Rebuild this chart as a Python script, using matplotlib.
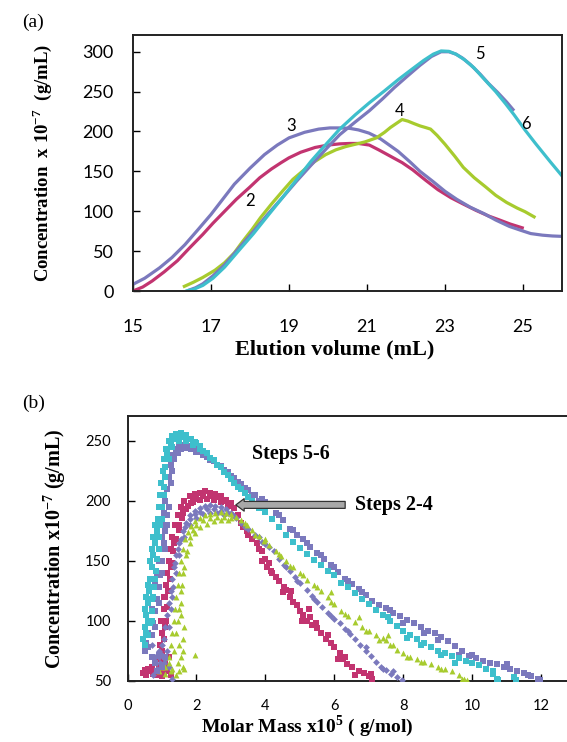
import matplotlib
matplotlib.use("Agg")
import matplotlib.pyplot as plt

plt.rcParams['font.family'] = ['Lato', 'DejaVu Sans']
plt.rcParams['mathtext.fontset'] = 'custom'
plt.rcParams['mathtext.rm'] = 'Liberation Serif'
plt.rcParams['mathtext.bf'] = 'Liberation Serif:bold'

SERIF = ['Liberation Serif', 'DejaVu Serif']

purple = '#7b79bd'
magenta = '#c23470'
green = '#a7cb2e'
cyan = '#3ebfcc'

# ---- panel (a): elution curves (step number -> volume, concentration) ----
v2 = [15.0, 15.25, 15.49, 15.8, 16.14, 16.45, 16.79, 17.05, 17.35, 17.65, 17.99, 18.25,
      18.55, 18.8, 19.0, 19.3, 19.67, 20.0, 20.3, 20.55, 20.78, 21.06, 21.3, 21.6,
      21.9, 22.17, 22.5, 22.82, 23.15, 23.47, 23.8, 24.12, 24.4, 24.67, 25.02]
c2 = [0, 5, 12.5, 24, 38, 54, 71, 85, 100, 115, 130, 142,
      153, 161, 167, 174, 180, 183, 184.5, 185, 185, 183, 177, 169,
      161, 152, 139, 127, 117, 109, 101, 94, 89, 84, 78.6]

v3 = [15.0, 15.3, 15.68, 16.0, 16.33, 16.65, 17.0, 17.3, 17.6, 18.0, 18.37, 18.7,
      19.0, 19.4, 19.76, 20.05, 20.3, 20.55, 20.78, 21.05, 21.34, 21.6, 21.8, 22.1,
      22.36, 22.7, 23.0, 23.3, 23.65, 24.0, 24.3, 24.65, 24.95, 25.2, 25.5, 25.75, 26.0]
c3 = [8.4, 16, 29, 42, 58, 76, 96, 115, 134, 154, 171, 183,
      192, 199, 203, 204.5, 204.5, 204, 202, 198, 191, 182, 175, 162,
      150, 137, 125, 115, 105, 97, 89, 81, 76, 72, 70, 69, 68.5]

v4 = [16.28, 16.55, 16.79, 17.1, 17.35, 17.6, 17.81, 18.05, 18.27, 18.55, 18.83, 19.1,
      19.39, 19.65, 19.94, 20.2, 20.45, 20.7, 20.95, 21.24, 21.45, 21.6, 21.75, 21.9,
      22.05, 22.2, 22.36, 22.5, 22.63, 22.8, 23.0, 23.25, 23.47, 23.75, 24.03, 24.3,
      24.58, 24.85, 25.05, 25.32]
c4 = [5, 11, 17, 26, 35.5, 48, 62, 77, 92, 109, 125, 140,
      152, 162, 171, 177, 181, 184, 187, 192, 199, 205, 210, 215,
      213, 210, 207, 205, 203, 195, 184, 169, 155, 142, 131, 120,
      111, 104, 99.5, 92]

v5 = [16.42, 16.6, 16.79, 17.05, 17.35, 17.7, 18.09, 18.45, 18.83, 19.2, 19.57, 19.95,
      20.3, 20.7, 21.06, 21.4, 21.7, 22.05, 22.36, 22.65, 22.9, 23.1, 23.28, 23.45,
      23.65, 23.9, 24.12, 24.35, 24.58, 24.77]
c5 = [0.8, 4, 9, 19, 33, 53, 75, 96, 117, 138, 158, 178,
      196, 212, 226, 241, 255, 270, 283, 294, 300, 300, 297, 292,
      284, 272, 260, 249, 237, 226]

v6 = [16.35, 16.55, 16.79, 17.05, 17.35, 17.7, 18.09, 18.45, 18.83, 19.2, 19.57, 19.95,
      20.3, 20.7, 21.06, 21.45, 21.8, 22.15, 22.45, 22.7, 22.9, 23.1, 23.28, 23.5,
      23.74, 24.0, 24.3, 24.55, 24.77, 25.05, 25.32, 25.7, 26.04]
c6 = [0, 2, 7, 16, 30, 50, 72, 94, 117, 140, 163, 184,
      203, 221, 236, 251, 265, 278, 289, 297, 301, 300.5, 297, 290,
      280, 266, 250, 235, 221, 202, 185, 162, 142]

curve_labels = ['2', '3', '4', '5', '6']
label_x = [18.0, 19.06, 21.83, 23.9, 25.07]
label_y = [113, 207, 226, 297, 210]

# ---- panel (b): concentration vs molar mass (x1e5 g/mol) ----
m2 = [0.45, 0.55, 0.65, 0.75, 0.85, 0.95, 1.05, 1.15, 1.25, 0.6, 0.9, 1.1,
      0.9, 0.95, 1.0, 1.02, 1.05, 1.08, 1.12, 1.15, 1.2, 1.25, 1.3, 1.38, 1.45, 1.55,
      1.65, 1.8, 1.95, 2.1, 2.25, 2.4, 2.55, 2.7, 2.85, 3.0, 3.1,
      1.1, 1.18, 1.25, 1.35, 1.48, 1.6, 1.75, 1.9, 2.1, 2.3, 2.5, 2.7, 2.9,
      3.2, 3.3, 3.45, 3.6, 3.75, 3.9, 4.0, 4.1, 4.2, 4.3, 4.4, 4.55, 4.7, 4.8, 4.9,
      5.0, 5.1, 5.2, 5.35, 5.5, 5.6, 5.75, 5.9, 6.0, 6.15, 6.25, 6.35, 6.5, 6.7,
      6.85, 7.0, 7.1, 4.05, 3.8, 4.6, 5.3,
      1.0, 1.1, 1.2, 1.0, 1.05, 1.12, 1.15, 1.2, 1.22, 1.28, 1.33, 1.4, 1.48, 1.58,
      1.7, 1.85, 2.0, 2.2, 2.4, 2.6, 2.8, 3.0, 0.95, 0.5, 0.7, 0.8, 1.0, 0.98, 1.05,
      3.35, 3.5, 3.9, 4.15, 4.5, 4.75, 5.05, 5.25, 5.45, 5.8, 6.1, 6.3, 6.6, 7.05]
s2 = [57, 55, 58, 56, 55, 57, 56, 58, 55, 60, 62, 60,
      70, 80, 90, 100, 110, 120, 130, 140, 150, 160, 170, 180, 188, 195,
      200, 204, 206, 207, 208, 207, 206, 204, 201, 197, 194,
      95, 125, 145, 165, 180, 190, 196, 199, 201, 202, 201, 199, 196,
      188, 182, 175, 168, 165, 158, 152, 148, 140, 137, 133, 128, 120, 116, 113,
      108, 105, 100, 97, 94, 90, 85, 82, 78, 73, 68, 64, 62, 58,
      57, 54, 52, 145, 160, 126, 103,
      60, 65, 70, 75, 85, 100, 112, 125, 135, 148, 158, 168, 176, 186,
      193, 198, 202, 204, 204, 203, 200, 198, 68, 59, 62, 58, 54, 100, 120,
      178, 172, 150, 142, 124, 125, 100, 110, 98, 88, 68, 70, 55, 56]

m3 = [0.75, 0.85, 0.95, 0.8, 0.9, 1.0, 1.1, 1.2, 1.3, 0.7,
      1.05, 1.1, 1.15, 1.2, 1.25, 1.3, 1.35, 1.42, 1.5, 1.6, 1.7, 1.82, 1.95, 2.1,
      2.25, 2.4, 2.55, 2.7, 2.85, 3.0,
      1.3, 1.4, 1.5, 1.65, 1.8, 2.0, 2.2, 2.4, 2.6, 2.8,
      3.15, 3.3, 3.5, 3.7, 3.9, 4.1, 4.25, 4.4, 4.55, 4.7, 4.85, 5.0, 5.2, 5.35,
      5.5, 5.65, 5.8, 6.0, 6.15, 6.3, 6.45, 6.6, 6.75, 6.9, 7.05, 7.2, 7.35, 7.5,
      7.65, 7.8, 7.95,
      0.9, 1.0, 1.05, 1.15, 1.2, 1.25, 1.32, 1.38, 1.45, 1.55, 1.68, 1.8, 1.95, 2.1,
      2.3, 2.5, 2.7, 2.9, 3.05,
      3.4, 3.8, 4.0, 4.6, 4.9, 5.4, 5.9, 6.4, 6.9, 7.4, 7.7]
s3 = [55, 60, 65, 70, 75, 72, 68, 62, 52, 80,
      85, 95, 105, 115, 125, 135, 145, 155, 165, 175, 182, 188, 192, 194,
      195.5, 196.5, 196, 195, 193, 190,
      120, 140, 155, 170, 180, 186, 189, 190, 190, 188,
      186, 182, 177, 172, 166, 162, 158, 152, 147, 142, 137, 132, 126, 121,
      116, 112, 107, 102, 98, 93, 89, 85, 80, 75, 71, 66, 62, 59,
      56, 53, 51,
      70, 80, 65, 75, 95, 110, 128, 148, 160, 168, 178, 185, 189, 191,
      193, 193, 192, 190, 188,
      178, 170, 164, 145, 133, 118, 104, 92, 78, 60, 58]

m4 = [0.9, 1.0, 1.1, 1.2, 1.3, 1.4, 1.5, 1.6, 1.2, 1.35, 1.5, 1.6, 1.65, 1.55, 1.95,
      1.3, 1.35, 1.38, 1.42, 1.46, 1.5, 1.55, 1.6, 1.68, 1.76, 1.85, 1.95, 2.1,
      2.25, 2.4, 2.55, 2.7, 2.85, 3.0, 3.15,
      1.55, 1.62, 1.7, 1.8, 1.95, 2.1, 2.3, 2.5, 2.7, 2.9,
      3.3, 3.45, 3.6, 3.8, 3.95, 4.1, 4.3, 4.45, 4.6, 4.8, 5.0, 5.2, 5.4, 5.6,
      5.8, 6.0, 6.2, 6.4, 6.6, 6.8, 7.0, 7.2, 7.4, 7.6, 7.8, 8.0, 8.2, 8.4, 8.6,
      8.8, 9.0, 9.2, 9.4, 9.6, 9.75, 9.85, 7.55, 7.5, 6.7, 5.9,
      1.25, 1.4, 1.45, 1.5, 1.55, 1.58, 1.65, 1.72, 1.82, 1.9, 2.0, 2.2, 2.4, 2.6,
      2.8, 3.0, 1.45, 1.55, 1.6, 1.65, 1.1, 1.25,
      3.4, 3.7, 4.0, 4.4, 4.7, 5.1, 5.5, 5.9, 6.3, 6.9, 7.3, 7.7, 8.1, 8.5, 9.1, 9.7]
s4 = [58, 62, 56, 65, 60, 55, 58, 62, 70, 75, 80, 85, 95, 105, 72,
      90, 100, 110, 120, 130, 140, 150, 160, 168, 174, 179, 183, 186,
      188, 189, 190, 190.5, 190, 189, 187,
      125, 140, 155, 165, 173, 178, 181, 183, 184, 184,
      184, 180, 176, 171, 167, 163, 158, 154, 150, 145, 140, 134, 130, 125,
      120, 114, 108, 104, 99, 95, 92, 88, 86, 80, 76, 73, 70, 68, 66,
      64, 62, 60, 58, 55, 52, 50.5, 88, 84, 103, 124,
      80, 90, 100, 110, 115, 130, 145, 158, 170, 176, 180, 184, 186, 187,
      187, 186, 65, 70, 75, 60, 62, 58,
      182, 172, 168, 156, 146, 138, 128, 116, 106, 92, 84, 80, 70, 66, 60, 52]

m5 = [0.5, 0.55, 0.6, 0.65, 0.7, 0.75, 0.8, 0.85, 0.9, 0.95, 1.0, 1.02, 1.06, 1.1,
      1.15, 1.2, 1.25, 1.3, 1.4, 1.5, 1.6, 1.7, 1.8, 1.95, 2.1, 2.3, 2.5, 2.7, 2.9,
      3.1, 3.3, 3.5, 3.7, 3.9, 4.1, 4.3, 4.5, 4.7, 4.9, 5.1, 5.3, 5.5, 5.7, 5.9,
      6.1, 6.3, 6.5, 6.7, 6.9, 7.1, 7.3, 7.5, 7.7, 7.9, 8.1, 8.3, 8.5, 8.7, 8.9,
      9.1, 9.3, 9.5, 9.7, 9.9, 10.1, 10.3, 10.5, 10.7, 10.9, 11.1, 11.3, 11.5,
      11.7, 11.9, 11.95, 0.8, 0.9, 1.0, 1.1, 1.15, 1.2,
      0.6, 0.7, 0.75, 0.8, 0.85, 0.9, 0.95, 1.0, 1.05, 1.1, 1.15, 1.25, 1.3, 1.35,
      1.45, 1.55, 1.7, 1.85, 2.0, 2.2, 2.4, 2.6, 2.8, 3.0, 3.2, 3.4, 3.6, 3.8,
      0.7, 0.8, 0.9, 1.0, 1.1, 0.85,
      4.0, 4.4, 4.8, 5.2, 5.6, 6.0, 6.4, 6.8, 7.6, 8.0, 8.6, 9.0, 9.6, 10.0, 11.0, 11.6]
s5 = [75, 82, 90, 100, 110, 120, 130, 140, 150, 160, 170, 180, 190, 200,
      210, 220, 230, 238, 243, 246, 247, 247, 246, 244, 241, 237, 233, 229, 224,
      219, 214, 209, 205, 202, 196, 190, 184, 177, 172, 168, 162, 157, 152, 147,
      141, 135, 131, 127, 122, 117, 113, 111, 107, 104, 101, 98, 95, 92, 90,
      87, 83, 79, 75, 71, 69, 67, 65, 64, 62, 60, 58, 57,
      54, 52, 50.5, 95, 115, 140, 160, 180, 195,
      78, 88, 98, 108, 118, 128, 138, 150, 165, 175, 188, 215, 225, 235,
      240, 243, 244, 243, 241, 238, 234, 230, 226, 221, 216, 211, 205, 200,
      70, 65, 72, 62, 70, 58,
      199, 188, 176, 165, 155, 145, 133, 124, 109, 98, 90, 84, 72, 72, 64, 55]

m6 = [0.45, 0.5, 0.55, 0.6, 0.62, 0.65, 0.7, 0.75, 0.8, 0.85, 0.88, 0.9, 0.95, 0.98,
      1.02, 1.07, 1.12, 1.2, 1.3, 1.4, 1.55, 1.7, 1.85, 2.0, 2.2, 2.4, 2.6, 2.8,
      3.0, 3.2, 3.4, 3.6, 3.8, 4.0, 4.2, 4.4, 4.6, 4.8, 5.0, 5.2, 5.4, 5.6, 5.8,
      6.0, 6.2, 6.4, 6.6, 6.8, 7.0, 7.2, 7.4, 7.6, 7.8, 8.0, 8.2, 8.4, 8.6, 8.8,
      9.0, 9.2, 9.4, 9.6, 9.8, 10.0, 10.2, 10.4, 10.6, 10.7, 10.75, 11.25,
      0.7, 0.75, 0.8, 0.9, 1.0, 1.05, 1.1, 1.2, 1.3, 1.5, 1.7, 1.9, 2.1,
      0.6, 0.65, 0.7, 0.72, 0.78, 0.82, 0.86, 0.9, 0.95, 1.0, 1.05, 1.1, 1.15, 1.25,
      1.35, 1.45, 1.6, 1.75, 1.95, 2.1, 2.3, 2.5, 2.7, 2.9, 3.1, 3.3, 3.5, 3.7,
      0.5, 0.55, 0.58, 0.52, 0.55, 0.6, 0.65, 0.7, 0.75, 0.8,
      7.55, 8.1, 8.5, 9.1, 9.5, 10.6, 11.2]
s6 = [85, 95, 105, 115, 125, 135, 145, 155, 165, 175, 185, 195, 205, 215,
      225, 235, 243, 250, 254, 256, 256.5, 255, 252, 248, 242, 236, 230, 224,
      218, 212, 207, 200, 194, 191, 185, 178, 172, 166, 161, 156, 151, 147, 142,
      138, 132, 128, 123, 118, 114, 109, 105, 100, 96, 92, 88, 85, 82, 78,
      75, 73, 71, 69, 67, 65, 63, 60, 56, 52, 50.5, 51,
      100, 120, 135, 160, 185, 205, 220, 235, 245, 250, 250, 247, 243,
      88, 98, 108, 118, 128, 142, 152, 170, 180, 195, 212, 228, 240, 248,
      252, 253, 253, 252, 249, 246, 240, 234, 228, 222, 215, 210, 203, 197,
      80, 90, 100, 110, 120, 130, 150, 160, 170, 180,
      103, 86, 80, 72, 65, 58, 53]

fig = plt.figure(figsize=(5.67, 7.42), dpi=100)

# panel (a)
ax = fig.add_axes([133 / 567, 451 / 742, 429 / 567, 256 / 742])
for v, c, col in [(v2, c2, magenta), (v3, c3, purple), (v4, c4, green),
                  (v5, c5, purple), (v6, c6, cyan)]:
    ax.plot(v, c, color=col, lw=2.3, solid_joinstyle='round', solid_capstyle='butt')
for t, x, y in zip(curve_labels, label_x, label_y):
    ax.text(x, y, t, fontsize=12, ha='center', va='center')
ax.set_xlim(15, 26.0)
ax.set_ylim(0, 321)
ax.set_xticks([15, 17, 19, 21, 23, 25])
ax.set_yticks([0, 50, 100, 150, 200, 250, 300])
ax.tick_params(direction='in', length=5, width=1, labelsize=13)
ax.tick_params(axis='x', pad=20)
ax.tick_params(axis='y', pad=14)
for sp in ax.spines.values():
    sp.set_linewidth(1.4)
    sp.set_color('#222222')
ax.set_xlabel('Elution volume (mL)', fontsize=16, fontweight='bold', family=SERIF)
ax.xaxis.set_label_coords(0.47, -0.19)
ax.set_ylabel(r'Concentration  x 10$^{\mathbf{-7}}$  (g/mL)', fontsize=13.5,
              fontweight='bold', family=SERIF)
ax.yaxis.set_label_coords(-0.184, 0.5)
fig.text(22 / 567, 1 - 22 / 742, '(a)', family=SERIF, fontsize=14, ha='left', va='center')

# panel (b)
bx = fig.add_axes([127.5 / 567, 61 / 742, 439.5 / 567, 265.3 / 742])
ms = 15
bx.scatter(m2, s2, marker='s', s=ms, color=magenta, linewidths=0, zorder=3)
bx.scatter(m3, s3, marker='D', s=ms * 0.8, color=purple, linewidths=0, zorder=3)
bx.scatter(m4, s4, marker='^', s=ms * 1.2, color=green, linewidths=0, zorder=3)
bx.scatter(m5, s5, marker='s', s=ms, color=purple, linewidths=0, zorder=3)
bx.scatter(m6, s6, marker='s', s=ms, color=cyan, linewidths=0, zorder=3)
bx.annotate('', xy=(3.06, 196.7), xytext=(6.39, 196.7),
            arrowprops=dict(arrowstyle='simple,head_length=0.6,head_width=0.9,tail_width=0.5',
                            fc='#a8a8a8', ec='#333333', lw=0.9), zorder=4)
bx.text(6.6, 196.7, 'Steps 2-4', family=SERIF, fontweight='bold', fontsize=14.5,
        ha='left', va='center')
bx.text(3.6, 239, 'Steps 5-6', family=SERIF, fontweight='bold', fontsize=14.5,
        ha='left', va='center')
bx.set_xlim(0, 12.74)
bx.set_ylim(50, 271)
bx.set_xticks([0, 2, 4, 6, 8, 10, 12])
bx.set_yticks([50, 100, 150, 200, 250])
bx.tick_params(direction='in', length=5, width=1, labelsize=10.5)
bx.tick_params(axis='x', pad=13)
bx.tick_params(axis='y', pad=12)
for sp in bx.spines.values():
    sp.set_linewidth(1.4)
    sp.set_color('#222222')
bx.spines['right'].set_visible(False)
bx.set_xlabel(r'Molar Mass x10$^{\mathbf{5}}$ ( g/mol)', fontsize=14, fontweight='bold',
              family=SERIF)
bx.xaxis.set_label_coords(0.41, -0.12)
bx.set_ylabel(r'Concentration x10$^{\mathbf{-7}}$ (g/mL)', fontsize=14.5, fontweight='bold',
              family=SERIF)
bx.yaxis.set_label_coords(-0.135, 0.5)
fig.text(22 / 567, 1 - 403 / 742, '(b)', family=SERIF, fontsize=14, ha='left', va='center')

fig.savefig('out.png', dpi=100)
